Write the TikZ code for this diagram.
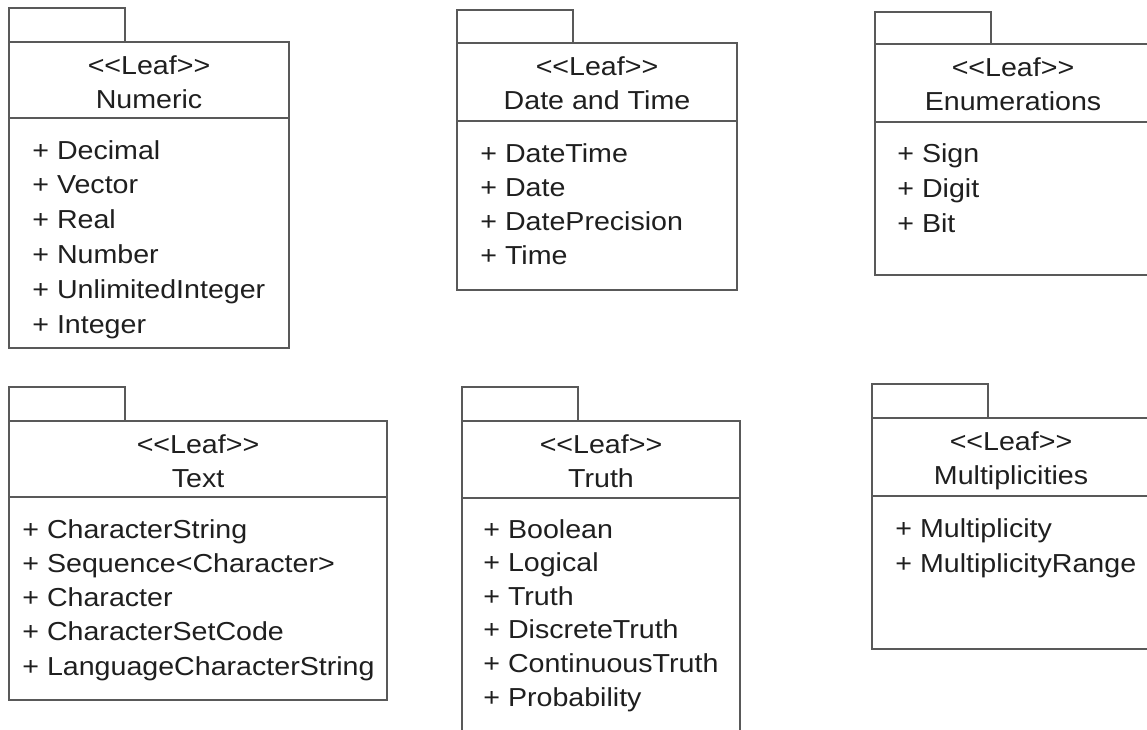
\documentclass[tikz,border=0pt]{standalone}
\usepackage{fontspec}
\setmainfont{Liberation Sans}[FakeStretch=1.1]

\tikzstyle{line} = [draw=black!65, line width=1pt]
\tikzstyle{hd}   = [inner sep=0, font=\fontsize{13}{17}\selectfont, text=black!88, anchor=base]
\tikzstyle{item} = [inner sep=0, font=\fontsize{13}{17}\selectfont, text=black!88, anchor=base west]

% package frame: #1 id, #2 left, #3 tab top, #4 box top, #5 right, #6 divider, #7 bottom, #8 name
\newcommand{\pkgframe}[8]{%
	\draw[line] (#2,#4) |- (#2+116,#3) -- (#2+116,#4);
	\draw[line] (#2,#4) rectangle (#5,#7);
	\draw[line] (#2,#6) -- (#5,#6);
	\node[hd] (#1-st) at ({(#2+#5)/2},#4+32.5) {<\kern0pt<Leaf>\kern0pt>};
	\node[hd] (#1-nm) at ({(#2+#5)/2},#4+66.5) {#8};
}

\begin{document}
\begin{tikzpicture}[x=0.5pt,y=-0.5pt]
	\useasboundingbox (0,0) rectangle (1147,729);
	\fill[white] (0,0) rectangle (1147,729);
	\clip (0,0) rectangle (1147,729);

%Top row
	\pkgframe{num}{9}{8}{42}{289}{118}{348}{Numeric}
	\foreach \t [count=\n from 0] in {Decimal,Vector,Real,Number,UnlimitedInteger,Integer}
		\node[item] (num-i\n) at (32,159+34.8*\n) {+ \t};

	\pkgframe{dat}{457}{10}{43}{737}{121}{290}{Date and Time}
	\foreach \t [count=\n from 0] in {DateTime,Date,DatePrecision,Time}
		\node[item] (dat-i\n) at (480,162+34*\n) {+ \t};

	\pkgframe{enu}{875}{12}{44}{1151}{122}{275}{Enumerations}
	\foreach \t [count=\n from 0] in {Sign,Digit,Bit}
		\node[item] (enu-i\n) at (897,162+35*\n) {+ \t};

%Bottom row
	\pkgframe{txt}{9}{387}{421}{387}{497}{700}{Text}
	\foreach \t [count=\n from 0] in {CharacterString,Sequence<Character>,Character,CharacterSetCode,LanguageCharacterString}
		\node[item] (txt-i\n) at (22,538+34.25*\n) {+ \t};

	\pkgframe{tru}{462}{387}{421}{740}{498}{760}{Truth}
	\foreach \t [count=\n from 0] in {Boolean,Logical,Truth,DiscreteTruth,ContinuousTruth,Probability}
		\node[item] (tru-i\n) at (483,538+33.6*\n) {+ \t};

	\pkgframe{mul}{872}{384}{418}{1150}{496}{649}{Multiplicities}
	\foreach \t [count=\n from 0] in {Multiplicity,MultiplicityRange}
		\node[item] (mul-i\n) at (895,537+35*\n) {+ \t};

\end{tikzpicture}
\end{document}
